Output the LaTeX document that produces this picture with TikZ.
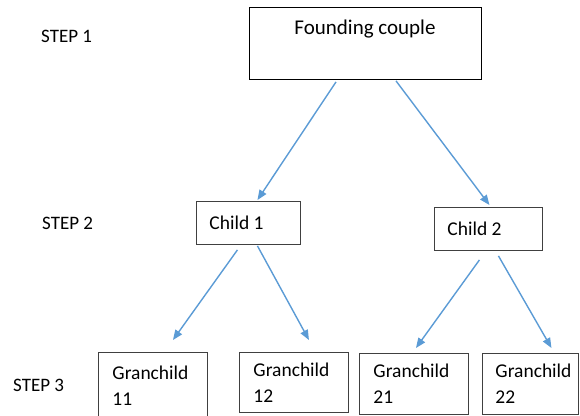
\documentclass[tikz,border=0pt]{standalone}
\usepackage{fontspec}
\setmainfont{Carlito}
\usepackage{tikz}
\usetikzlibrary{arrows.meta,positioning}
\definecolor{pilblue}{HTML}{5B9BD5}
\tikzset{
	%Define standard arrow tip
	>={Triangle[length=10pt,width=8pt]},
	%Define style for boxes
	boks/.style={
		rectangle,
		draw=black!75, line width=0.9pt,
		font=\fontsize{19.5}{26}\selectfont,
		align=flush left,
		inner xsep=14pt,
		inner ysep=0pt},
	%Define style for step labels
	trinn/.style={
		anchor=west,
		inner sep=0pt,
		font=\fontsize{19}{22}\selectfont},
	% Define arrow style
	pil/.style={
		->,
		draw=pilblue,
		line width=1.4pt}
}

\begin{document}
\begin{tikzpicture}[x=1pt, y=-1pt]
	
	\useasboundingbox (0,0) rectangle (580,415);
	
	% step labels
	\node[trinn] (s1) at (41,36) {STEP 1};
	\node[trinn] (s2) at (42,223) {STEP 2};
	\node[trinn] (s3) at (13,385) {STEP 3};
	
	% boxes
	\node[boks, draw=black, anchor=north, minimum width=232pt, align=center,
	font=\fontsize{21}{26}\selectfont, text height=27pt, text depth=45pt] (found) at (365,7) {Founding couple};
	\node[boks, anchor=north west, text width=78pt, inner xsep=13pt, minimum height=43pt] (child1) at (196,201) {Child 1};
	\node[boks, anchor=north west, text width=82pt, inner xsep=13pt, minimum height=43pt] (child2) at (434,207) {Child 2};
	\node[boks, anchor=north west, text width=81pt, minimum height=66pt] (gc11) at (98,352) {Granchild\\11};
	\node[boks, anchor=north west, text width=81pt, minimum height=60pt] (gc12) at (239,352) {Granchild\\12};
	\node[boks, anchor=north west, text width=81pt, minimum height=61pt] (gc21) at (359,353) {Granchild\\21};
	\node[boks, anchor=north west, text width=70pt, inner xsep=13pt, minimum height=61pt] (gc22) at (482,353) {Granchild\\22};
	
	% arrows
	\draw[pil] ([xshift=-29pt,yshift=-2pt]found.south) -- ([xshift=9pt,yshift=1pt]child1.north);
	\draw[pil] ([xshift=31pt,yshift=-1pt]found.south) -- ([xshift=1pt,yshift=2pt]child2.north);
	\draw[pil] ([xshift=-11pt,yshift=-5pt]child1.south) -- ([xshift=20pt,yshift=12pt]gc11.north);
	\draw[pil] ([xshift=9pt,yshift=-1pt]child1.south) -- ([xshift=15pt,yshift=12pt]gc12.north);
	\draw[pil] ([xshift=-9pt,yshift=-9pt]child2.south) -- ([xshift=2pt,yshift=5pt]gc21.north);
	\draw[pil] ([xshift=10pt,yshift=-5pt]child2.south) -- ([xshift=21pt,yshift=5pt]gc22.north);
	
\end{tikzpicture}
\end{document}
